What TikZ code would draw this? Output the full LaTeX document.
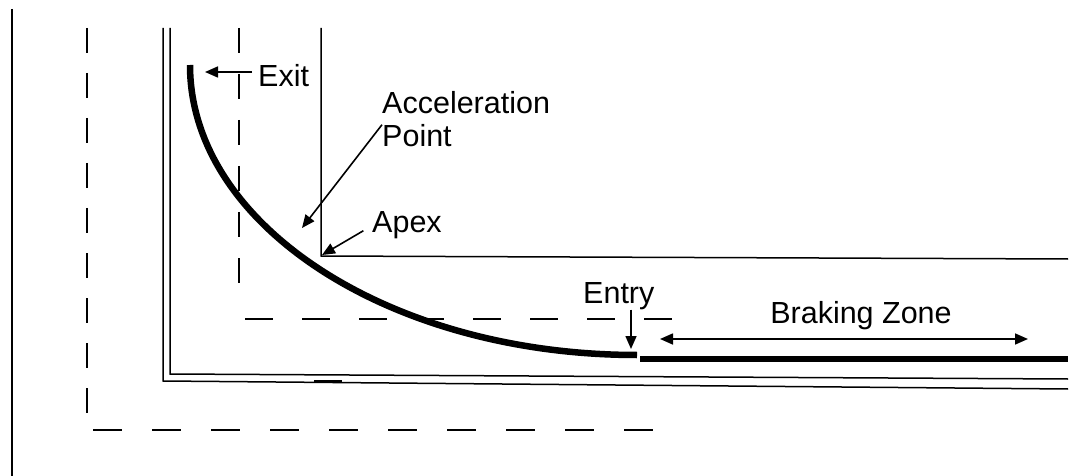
\documentclass[tikz,border=0pt]{standalone}
\usepackage{fontspec}
\setmainfont{Liberation Sans}
\usetikzlibrary{arrows.meta,calc}

\begin{document}
\begin{tikzpicture}[
    x=1pt,y=-1pt,
    >={Triangle[length=13pt,width=11pt]},
    wall/.style={line width=1.5pt,black},
    lane/.style={line width=1.5pt,black,dash pattern=on 25pt off 20pt},
    racing/.style={line width=6.5pt,black},
    lbl/.style={inner sep=0pt,font=\fontsize{30.5}{34}\selectfont},
    pointer/.style={->,line width=1.6pt},
]
\useasboundingbox (0,0) rectangle (1077,476);

% track edges
\draw[wall] (12,9) -- (12,476);
\draw[wall] (163,28) -- (163,381) -- (1068,389);
\draw[wall] (170,28) -- (170,374) -- (1068,379);
\draw[wall] (321,28) -- (321,256) -- (1068,259);
\draw[line width=2.5pt] (314,381) -- (342,381);

% lane markings
\draw[lane] (87,28) -- (87,413);
\draw[lane,dash pattern=on 25pt off 21pt] (239,28) -- (239,283);
\draw[lane,dash pattern=on 28pt off 29pt] (245,319) -- (673,319);
\draw[lane,dash pattern=on 29pt off 30pt] (93,430) -- (653,430);

% racing line
\draw[racing] (190,65) arc[start angle=180,end angle=90,x radius=447,y radius=290];
\draw[racing] (640,359) -- (1068,359);

% labels
\node[lbl,anchor=base west] (exit) at (258,87) {Exit};
\node[lbl,anchor=base west] (accel) at (382,114) {Acceleration};
\node[lbl,anchor=base west] (point) at (382,147) {Point};
\node[lbl,anchor=base west] (apex) at (372,233) {Apex};
\node[lbl,anchor=base west] (entry) at (583,303) {Entry};
\node[lbl,anchor=base] (bzone) at (861,323) {Braking Zone};

\coordinate (exitpt) at (205,72);
\coordinate (accelpt) at (302,228);
\coordinate (apexpt) at (322,255);
\coordinate (entrypt) at (631,349);
\coordinate (brkL) at (660,339);
\coordinate (brkR) at (1028,339);

\draw[pointer,shorten <=6pt] (exit.west |- exitpt) -- (exitpt);
\draw[pointer] (point.north west) -- (accelpt);
\draw[pointer,shorten <=10pt] (apex.west) -- (apexpt);
\draw[pointer] (entrypt |- entry.south) -- (entrypt);
\draw[pointer,<->] (brkL) -- (brkR);

\end{tikzpicture}
\end{document}
